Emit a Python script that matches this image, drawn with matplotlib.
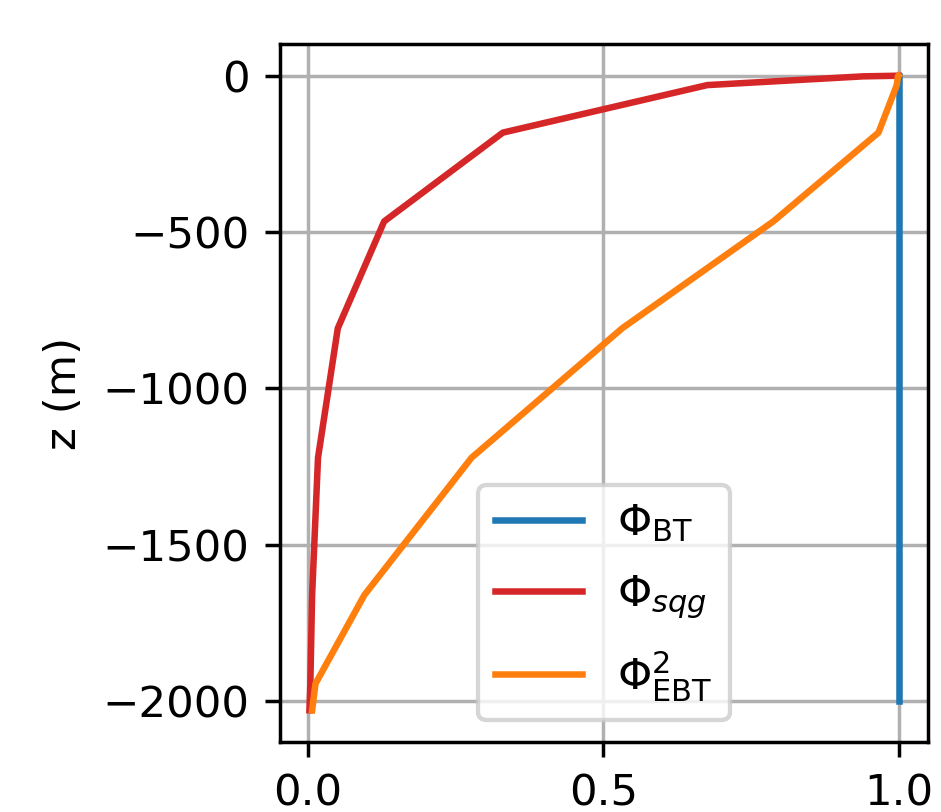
import matplotlib
matplotlib.use("Agg")
import matplotlib.pyplot as plt

# depth levels (m)
z_levels = [0, -2, -30, -182, -466, -808, -1222, -1661, -1945, -2030]
phi_sqg = [1.0, 0.94, 0.676, 0.330, 0.129, 0.0505, 0.017, 0.007, 0.004, 0.0025]
phi_ebt2 = [1.0, 0.999, 0.997, 0.966, 0.788, 0.532, 0.277, 0.0956, 0.0127, 0.007]
z_bt = [0, -2000]
phi_bt = [1.0, 1.0]

labels = [r'$\Phi_{\rm BT}$', r'$\Phi_{sqg}$', r'$\Phi^2_{\rm EBT}$']

DPI = 313
fig = plt.figure(figsize=(941/DPI, 812/DPI), dpi=DPI)
ax = fig.add_axes([280/941, 1-742/812, (928-280)/941, (742-44)/812])

ax.plot(phi_bt, z_bt, color='tab:blue', label=labels[0])
ax.plot(phi_sqg, z_levels, color='tab:red', label=labels[1])
ax.plot(phi_ebt2, z_levels, color='tab:orange', label=labels[2])

ax.set_xticks([0.0, 0.5, 1.0])
ax.set_yticks([0, -500, -1000, -1500, -2000])
ax.grid(True)
ax.set_ylabel('z (m)')
ax.legend(loc='lower center', labelspacing=0.65)

fig.savefig('out.png', dpi=DPI)
